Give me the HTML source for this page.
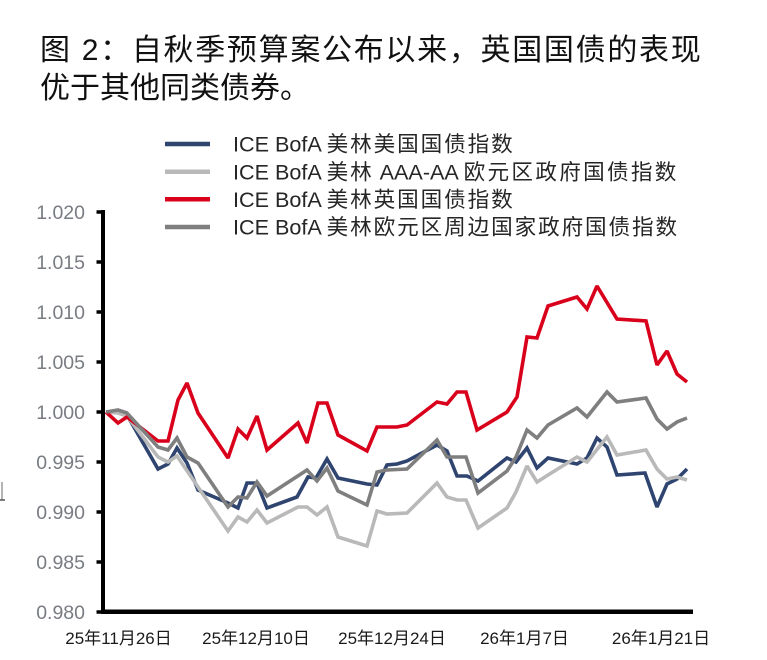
<!DOCTYPE html>
<html>
<head>
<meta charset="utf-8">
<style>
  html, body { margin:0; padding:0; background:#ffffff; }
  body { width:767px; height:660px; overflow:hidden; }
  svg { display:block; }
  .t { font-family:"Liberation Sans","Noto Sans CJK SC",sans-serif; }
</style>
</head>
<body>
<svg width="767" height="660" viewBox="0 0 767 660" xmlns="http://www.w3.org/2000/svg">
  <rect x="0" y="0" width="767" height="660" fill="#ffffff"/>

  <!-- Title -->
  <text class="t" x="40" y="60" font-size="30" fill="#111111" letter-spacing="1.7">图 2：自秋季预算案公布以来，英国国债的表现</text>
  <text class="t" x="40" y="98" font-size="30" fill="#111111">优于其他同类债券。</text>

  <!-- Legend -->
  <g stroke-width="4.5" stroke-linecap="butt">
    <line x1="165" y1="144" x2="210" y2="144" stroke="#2f4570"/>
    <line x1="165" y1="171.7" x2="210" y2="171.7" stroke="#b9b9b9"/>
    <line x1="165" y1="199.3" x2="210" y2="199.3" stroke="#d9001b"/>
    <line x1="165" y1="227" x2="210" y2="227" stroke="#7f7f7f"/>
  </g>
  <g class="t" font-size="21.6" fill="#262626">
    <text x="233" y="151.7">ICE BofA <tspan letter-spacing="1.9">美林美国国债指数</tspan></text>
    <text x="233" y="179.4">ICE BofA <tspan letter-spacing="1.9">美林</tspan> AAA-AA <tspan letter-spacing="2.3">欧元区政府国债指数</tspan></text>
    <text x="233" y="207">ICE BofA <tspan letter-spacing="1.9">美林英国国债指数</tspan></text>
    <text x="233" y="234.7">ICE BofA <tspan letter-spacing="1.9">美林欧元区周边国家政府国债指数</tspan></text>
  </g>

  <!-- Y axis labels -->
  <g class="t" font-size="19.5" fill="#787c82" text-anchor="end">
    <text x="85" y="219">1.020</text>
    <text x="85" y="269">1.015</text>
    <text x="85" y="319">1.010</text>
    <text x="85" y="369">1.005</text>
    <text x="85" y="419">1.000</text>
    <text x="85" y="469">0.995</text>
    <text x="85" y="519">0.990</text>
    <text x="85" y="569">0.985</text>
    <text x="85" y="619">0.980</text>
  </g>

  <!-- X axis labels -->
  <g class="t" font-size="17" fill="#1a1a1a" text-anchor="middle">
    <text x="118.5" y="644">25年11月26日</text>
    <text x="256" y="644">25年12月10日</text>
    <text x="392" y="644">25年12月24日</text>
    <text x="524.5" y="644">26年1月7日</text>
    <text x="661" y="644">26年1月21日</text>
  </g>

  <!-- small artifact at left edge -->
  <line x1="2" y1="482" x2="2" y2="500" stroke="#9a9a9a" stroke-width="1.5"/>
  <line x1="0" y1="500" x2="5" y2="500" stroke="#555" stroke-width="1.5"/>

  <!-- Series -->
  <g fill="none" stroke-width="3.6" stroke-linejoin="miter" stroke-miterlimit="2">
    <polyline stroke="#2f4570" points="106,412 118,412 127,415 158,469 168,464 177,448 187,463 198,490 228,503 238,508 247,483 257,483 267,508 297,497 308,477 316,478 327,459 338,478 367,484 377,485 387,465 397,464 407,461 437,445 447,451 457,476 467,476 478,481 507,458 516,462 527,448 537,468 548,458 577,464 587,458 597,438 607,447 617,475 645,473 657,507 667,484 677,479 687,469"/>
    <polyline stroke="#b9b9b9" points="106,412 118,413 127,416 158,457 168,462 177,456 198,487 228,531 238,517 247,522 257,510 267,523 298,507 307,507 317,515 327,507 338,537 367,546 377,511 387,514 407,513 437,483 447,497 457,500 466,500 478,528 507,508 516,492 527,466 537,482 548,475 577,457 587,462 607,437 617,455 646,450 657,469 667,479 677,477 687,480"/>
    <polyline stroke="#d9001b" points="106,412 118,423 127,417 158,441 168,441 178,400 187,383 198,413 228,458 238,429 247,438 257,416 267,450 298,423 307,443 318,403 327,403 338,435 367,451 377,427 397,427 407,425 437,402 447,404 457,392 466,392 477,430 507,412 517,397 527,337 537,338 548,306 577,297 587,309 597,286 617,319 646,321 657,365 667,351 677,374 687,382"/>
    <polyline stroke="#7f7f7f" points="106,412 118,410 127,413 158,447 168,450 177,438 187,457 198,463 228,507 238,497 247,498 257,482 267,496 307,470 317,481 327,468 338,491 367,505 377,472 387,470 407,469 437,440 447,457 466,457 478,493 507,471 516,457 527,430 537,438 548,425 577,408 587,417 607,392 617,402 646,398 657,419 667,429 677,422 687,418"/>
  </g>

  <!-- Axes -->
  <g stroke="#000000">
    <line x1="103" y1="210" x2="103" y2="614" stroke-width="4"/>
    <line x1="101" y1="611.8" x2="693" y2="611.8" stroke-width="4.5"/>
    <g stroke-width="3.5">
      <line x1="96.5" y1="212" x2="103" y2="212"/>
      <line x1="96.5" y1="262" x2="103" y2="262"/>
      <line x1="96.5" y1="312" x2="103" y2="312"/>
      <line x1="96.5" y1="362" x2="103" y2="362"/>
      <line x1="96.5" y1="412" x2="103" y2="412"/>
      <line x1="96.5" y1="462" x2="103" y2="462"/>
      <line x1="96.5" y1="512" x2="103" y2="512"/>
      <line x1="96.5" y1="562" x2="103" y2="562"/>
      <line x1="96.5" y1="612" x2="103" y2="612"/>
    </g>
  </g>
</svg>
</body>
</html>
